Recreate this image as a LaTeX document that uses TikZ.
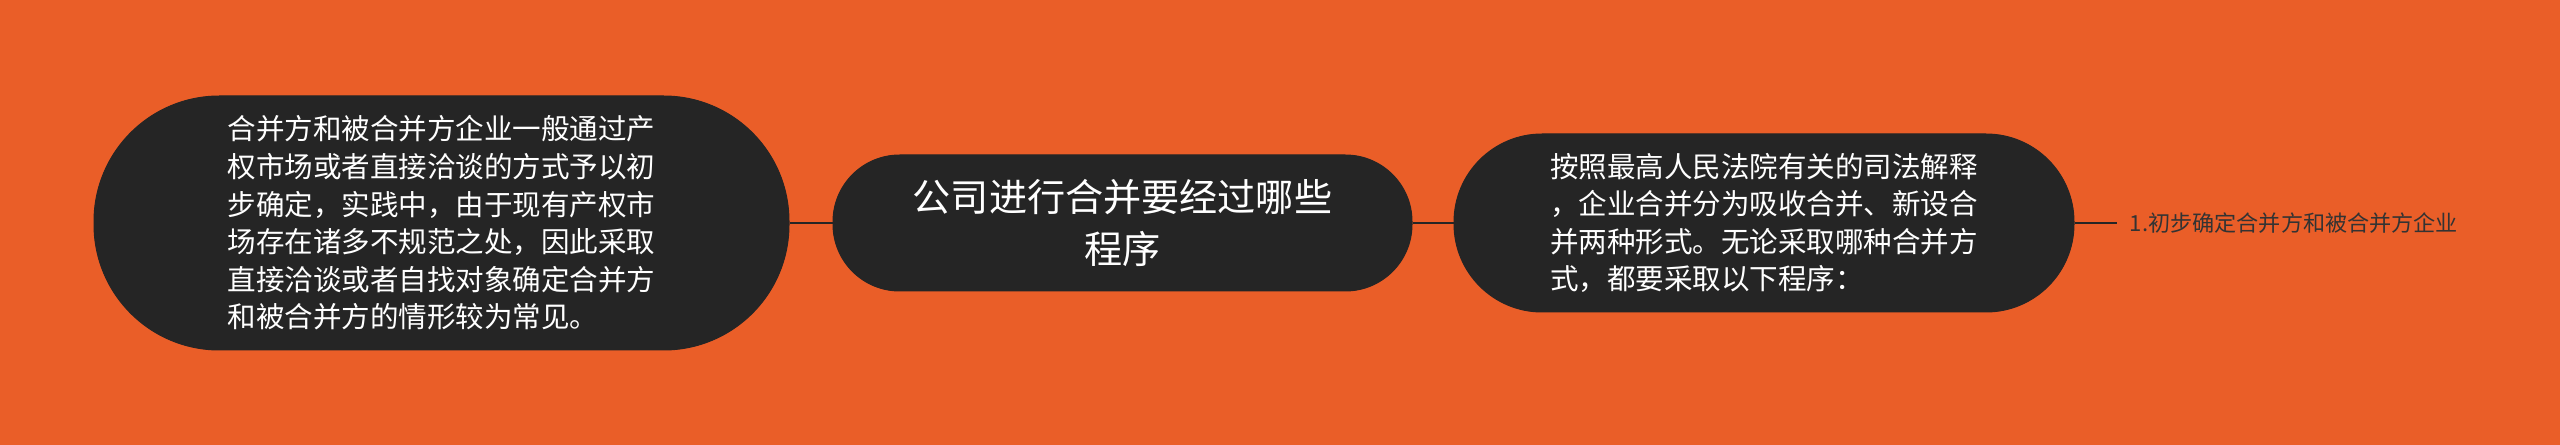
\documentclass[tikz,border=0pt]{standalone}
\usepackage{fontspec}
\newfontfamily\cjk{Noto Sans CJK SC}
\usetikzlibrary{positioning}
\definecolor{bgorange}{HTML}{EA5E28}
\definecolor{nodedark}{HTML}{252525}
\definecolor{leafgrey}{HTML}{333333}

\begin{document}
\begin{tikzpicture}[-, main node/.style={rectangle, rounded corners=50pt, fill=nodedark, draw=nodedark, line width=0.75pt, text=white, align=center, minimum width=434.25pt, minimum height=102pt, font=\cjk\fontsize{28.6pt}{38.3pt}\selectfont},
  side node/.style={rectangle, fill=nodedark, draw=nodedark, line width=0.75pt, text=white, align=left, font=\cjk\fontsize{21.4pt}{28.2pt}\selectfont},
  leaf node/.style={inner xsep=9.75pt, inner ysep=0pt, text=leafgrey, font=\cjk\fontsize{16.6pt}{18pt}\selectfont}]
           \useasboundingbox (0,0) rectangle (1920pt,-333.75pt);
           \fill[bgorange] (0,0) rectangle (1920pt,-333.75pt);

             \node[main node] (1) at (841.875pt,-167.25pt) {公司进行合并要经过哪些\\程序};
             \node[side node, rounded corners=94pt, minimum width=521.25pt, minimum height=190.5pt] (2) [left=32.25pt of 1] {合并方和被合并方企业一般通过产\\权市场或者直接洽谈的方式予以初\\步确定，实践中，由于现有产权市\\场存在诸多不规范之处，因此采取\\直接洽谈或者自找对象确定合并方\\和被合并方的情形较为常见。};
             \node[side node, rounded corners=66pt, minimum width=465pt, minimum height=133.5pt] (3) [right=30.75pt of 1] {按照最高人民法院有关的司法解释\\，企业合并分为吸收合并、新设合\\并两种形式。无论采取哪种合并方\\式，都要采取以下程序：};
             \node[leaf node] (4) [right=31.5pt of 3] {1.初步确定合并方和被合并方企业};

             \path[draw=nodedark, line width=1.8pt]
               (1) edge (2)
                   edge (3)
               (3) edge (4);

           \end{tikzpicture}
\end{document}
